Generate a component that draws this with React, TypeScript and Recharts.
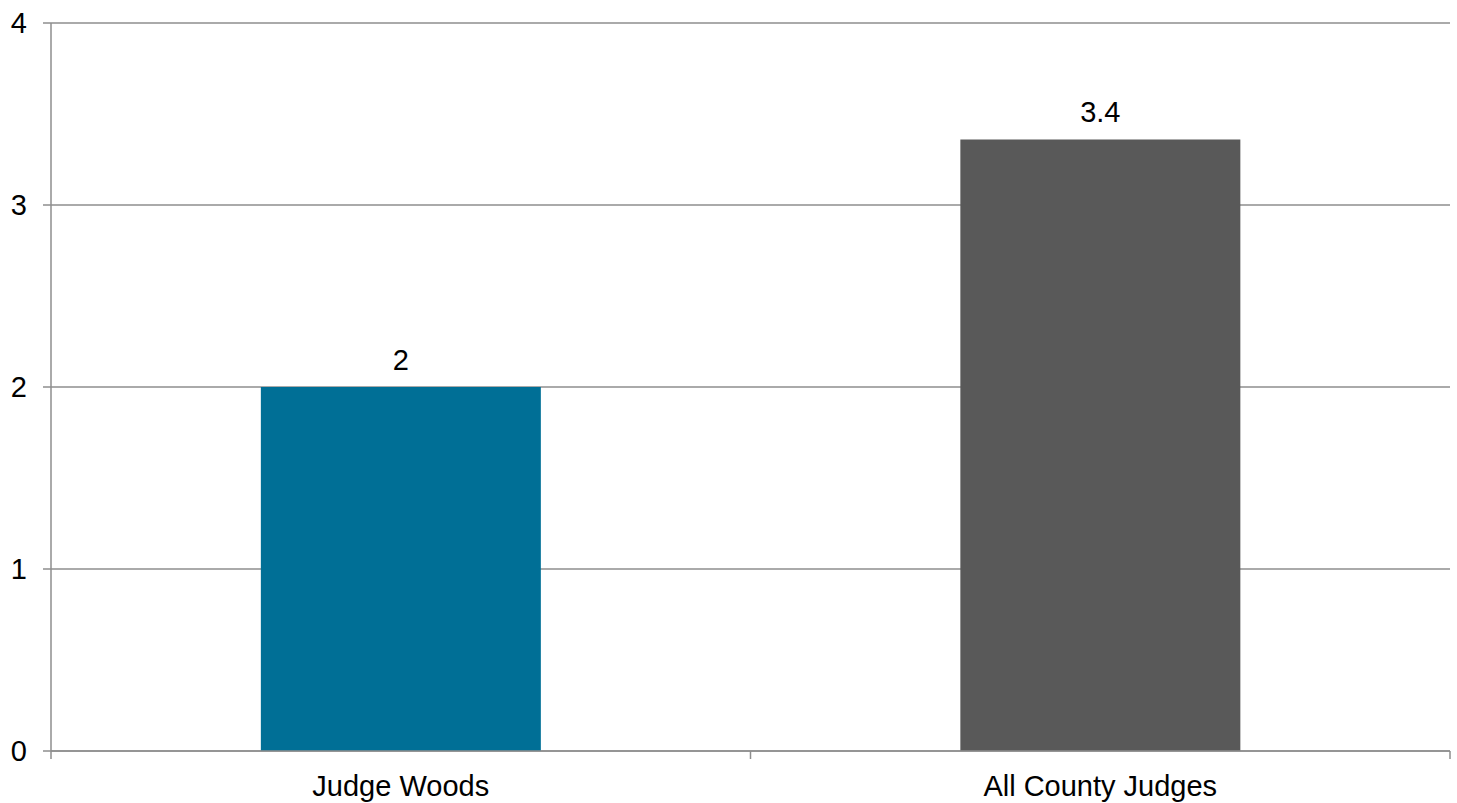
import React from 'react';
import { BarChart, Bar, XAxis, YAxis, CartesianGrid, LabelList, Cell } from 'recharts';

const categories = ['Judge Woods', 'All County Judges'];
const values = [2, 3.36];
const colors = ['#006F96', '#595959'];
const yTicks = [0, 1, 2, 3, 4];

const data = categories.map((name, i) => ({ name, value: values[i] }));

const AXIS = '#8E8E8E';
const FONT = 'Liberation Sans, Arial, sans-serif';
const FS = 29;

const CategoryTick = (props: any) => {
  const { x, y, payload, index, visibleTicksCount } = props;
  const half = payload && payload.offset ? payload.offset : 0;
  const last = index === visibleTicksCount - 1;
  return (
    <g>
      <line x1={x - half} x2={x - half} y1={y} y2={y + 8} stroke={AXIS} strokeWidth={1.5} />
      {last && <line x1={x + half} x2={x + half} y1={y} y2={y + 8} stroke={AXIS} strokeWidth={1.5} />}
      <text x={x} y={y + 45} textAnchor="middle" fill="#000" fontSize={FS} fontFamily={FONT}>
        {payload.value}
      </text>
    </g>
  );
};

export default function App() {
  return (
    <div style={{ position: 'absolute', left: 0, top: 0, width: 1457, height: 803, background: '#fff' }}>
      <BarChart
        width={1457}
        height={803}
        data={data}
        margin={{ top: 23, right: 7, bottom: 0, left: 0 }}
        barCategoryGap="30%"
      >
        <CartesianGrid horizontal vertical={false} stroke={AXIS} strokeWidth={1.5} />
        <XAxis
          dataKey="name"
          height={52}
          axisLine={{ stroke: AXIS, strokeWidth: 1.5 }}
          tickLine={false}
          tickSize={0}
          tickMargin={0}
          interval={0}
          tick={<CategoryTick />}
        />
        <YAxis
          domain={[0, 4]}
          ticks={yTicks}
          width={51}
          axisLine={{ stroke: AXIS, strokeWidth: 1.5 }}
          tickLine={{ stroke: AXIS, strokeWidth: 1.5 }}
          tickSize={8}
          tickMargin={16}
          tick={{ fill: '#000', fontSize: FS, fontFamily: FONT }}
        />
        <Bar dataKey="value" isAnimationActive={false}>
          {data.map((d, i) => (
            <Cell key={d.name} fill={colors[i]} />
          ))}
          <LabelList
            dataKey="value"
            position="top"
            offset={17}
            formatter={(v: number) => (Number.isInteger(v) ? String(v) : v.toFixed(1))}
            style={{ fill: '#000', fontSize: FS, fontFamily: FONT }}
          />
        </Bar>
      </BarChart>
    </div>
  );
}
